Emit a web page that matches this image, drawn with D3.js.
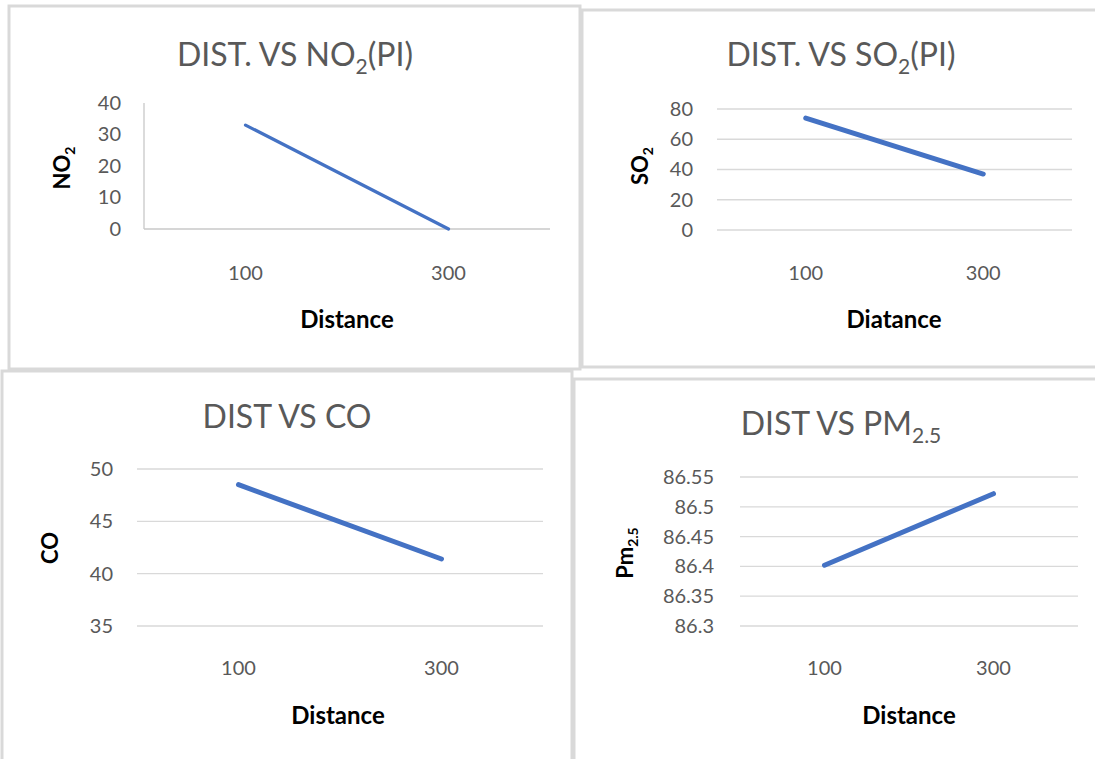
<!DOCTYPE html>
<html>
<head>
<meta charset="utf-8">
<script src="https://cdn.jsdelivr.net/npm/d3@7"></script>
<style>
  html, body { margin: 0; padding: 0; background: #ffffff; }
  svg { display: block; }
  text { font-family: Lato, "Open Sans", sans-serif; }
</style>
</head>
<body>
<svg id="chart" width="1095" height="759"></svg>
<script>
// ---------- data ----------
const categories = ["100", "300"];
const no2Values = [33, 0];
const so2Values = [74, 37];
const coValues = [48.5, 41.4];
const pm25Values = [86.402, 86.522];

const no2Ticks = [0, 10, 20, 30, 40];
const so2Ticks = [0, 20, 40, 60, 80];
const coTicks = [35, 40, 45, 50];
const pm25Ticks = [86.3, 86.35, 86.4, 86.45, 86.5, 86.55];

// ---------- layout ----------
const svg = d3.select("#chart");
const BORDER = "#d9d9d9";
const LINE = "#4472c4";
const TICK = "#595959";

const panels = [
  { frame: [9, 6, 571, 363], plot: [144, 103, 550, 229], domain: [0, 40], ticks: no2Ticks, values: no2Values,
    grid: false, lineW: 3.2, tickRight: 121, xTickY: 280,
    title: ["DIST. VS NO", "2", "(PI)"], titleX: 295, titleY: 66,
    yLabel: ["NO", "2"], yLabelX: 62, yLabelY: 168,
    xLabel: "Distance", xLabelX: 347, xLabelY: 328 },
  { frame: [582, 10, 540, 357], plot: [717, 109, 1072, 230], domain: [0, 80], ticks: so2Ticks, values: so2Values,
    grid: true, lineW: 5, tickRight: 693, xTickY: 280,
    title: ["DIST. VS SO", "2", "(PI)"], titleX: 841, titleY: 66,
    yLabel: ["SO", "2"], yLabelX: 640, yLabelY: 166,
    xLabel: "Diatance", xLabelX: 894, xLabelY: 328 },
  { frame: [2, 371, 570, 420], plot: [137, 469, 543, 626], domain: [35, 50], ticks: coTicks, values: coValues,
    grid: true, lineW: 5, tickRight: 113, xTickY: 675,
    title: ["DIST VS CO"], titleX: 287, titleY: 428,
    yLabel: ["CO"], yLabelX: 50, yLabelY: 548,
    xLabel: "Distance", xLabelX: 338, xLabelY: 724 },
  { frame: [574, 379, 540, 420], plot: [740, 477, 1078, 626], domain: [86.3, 86.55], ticks: pm25Ticks, values: pm25Values,
    grid: true, lineW: 5, tickRight: 714, xTickY: 675,
    title: ["DIST VS PM", "2.5", ""], titleX: 841, titleY: 435,
    yLabel: ["Pm", "2.5"], yLabelX: 625, yLabelY: 553,
    xLabel: "Distance", xLabelX: 909, xLabelY: 724 }
];

function addRich(textSel, parts, subSize, shift) {
  parts.forEach((p, i) => {
    if (p === "") return;
    const ts = textSel.append("tspan").text(p);
    if (i === 1) {
      ts.attr("font-size", subSize).attr("dy", shift);
    } else if (i === 2) {
      ts.attr("dy", -shift);
    }
  });
}

panels.forEach(P => {
  const g = svg.append("g");
  const [fx, fy, fw, fh] = P.frame;
  g.append("rect")
    .attr("x", fx).attr("y", fy).attr("width", fw).attr("height", fh)
    .attr("fill", "#ffffff").attr("stroke", BORDER).attr("stroke-width", 3);

  const [x0, y0, x1, y1] = P.plot;
  const x = d3.scaleBand().domain(categories).range([x0, x1]);
  const y = d3.scaleLinear().domain(P.domain).range([y1, y0]);

  if (P.grid) {
    g.append("g").selectAll("line").data(P.ticks).join("line")
      .attr("x1", x0).attr("x2", x1)
      .attr("y1", d => y(d)).attr("y2", d => y(d))
      .attr("stroke", BORDER).attr("stroke-width", 1.3);
  } else {
    g.append("line").attr("x1", x0).attr("x2", x0).attr("y1", y0).attr("y2", y1)
      .attr("stroke", "#c8c8c8").attr("stroke-width", 1.3);
    g.append("line").attr("x1", x0).attr("x2", x1).attr("y1", y1).attr("y2", y1)
      .attr("stroke", "#c8c8c8").attr("stroke-width", 1.3);
  }

  // y tick labels
  const yAxis = d3.axisLeft(y).tickValues(P.ticks).tickSize(0).tickFormat(d3.format("~g"));
  const ya = g.append("g").attr("transform", `translate(${P.tickRight},0)`).call(yAxis);
  ya.select(".domain").remove();
  ya.selectAll("text").attr("x", 0).attr("fill", TICK).attr("font-size", 20)
    .attr("font-family", "Lato, sans-serif");

  // x tick labels
  const xAxis = d3.axisBottom(x).tickSize(0);
  const xa = g.append("g").attr("transform", `translate(0,${P.xTickY})`).call(xAxis);
  xa.select(".domain").remove();
  xa.selectAll("text").attr("y", 0).attr("dy", 0).attr("fill", TICK).attr("font-size", 20)
    .attr("font-family", "Lato, sans-serif");

  // line
  const line = d3.line().x((d, i) => x(categories[i]) + x.bandwidth() / 2).y(d => y(d));
  g.append("path").datum(P.values).attr("d", line)
    .attr("fill", "none").attr("stroke", LINE).attr("stroke-width", P.lineW)
    .attr("stroke-linecap", "round");

  // title
  const t = g.append("text").attr("x", P.titleX).attr("y", P.titleY)
    .attr("text-anchor", "middle").attr("fill", TICK).attr("font-size", 32);
  addRich(t, P.title, 21, 8);

  // y label
  const yl = g.append("text")
    .attr("transform", `translate(${P.yLabelX + 8},${P.yLabelY}) rotate(-90)`)
    .attr("text-anchor", "middle").attr("fill", "#000").attr("font-size", 22).attr("font-weight", "bold");
  addRich(yl, P.yLabel, 14, 5);

  // x label
  g.append("text").attr("x", P.xLabelX).attr("y", P.xLabelY)
    .attr("text-anchor", "middle").attr("fill", "#000").attr("font-size", 24).attr("font-weight", "bold")
    .text(P.xLabel);
});
</script>
</body>
</html>
